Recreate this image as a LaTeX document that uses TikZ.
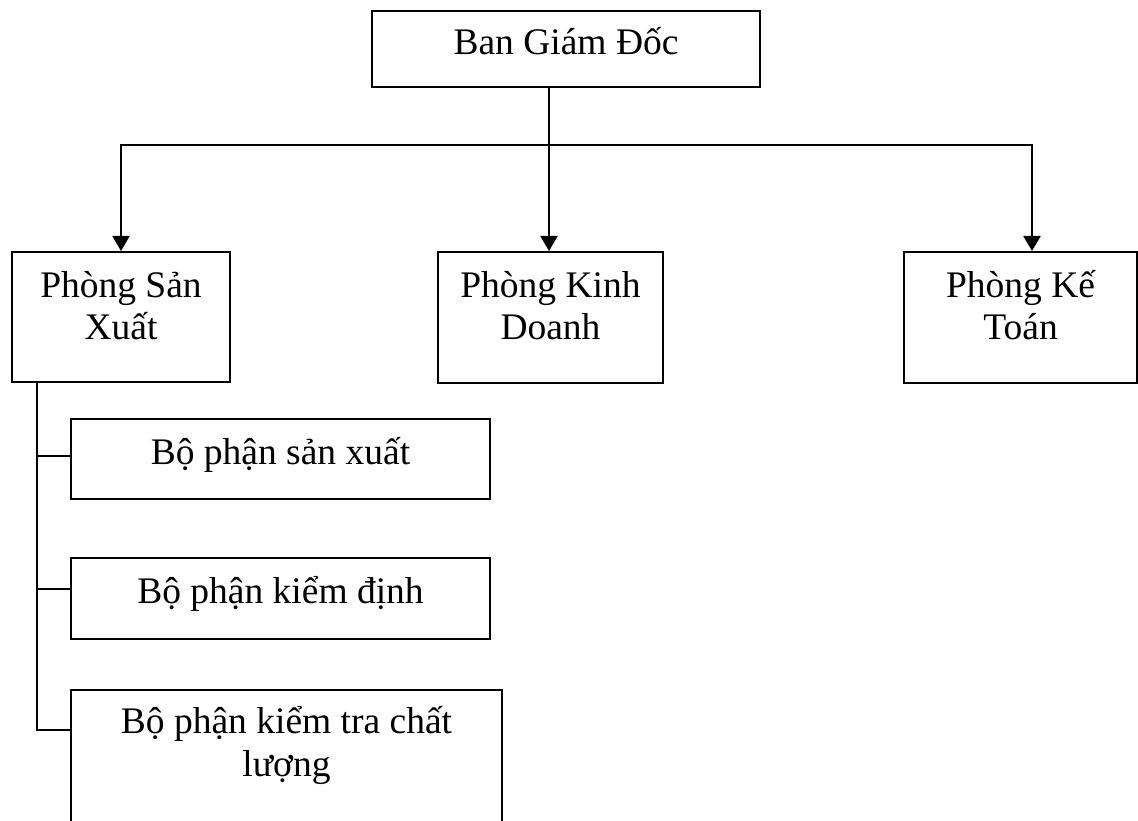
\documentclass[tikz,border=0pt]{standalone}
\usepackage{fontspec}
\setmainfont{Liberation Serif}
\usetikzlibrary{arrows.meta,calc}
\tikzset{
  box/.style={draw, line width=2pt, rectangle, inner sep=0pt, anchor=north west},
  lbl/.style={inner sep=0pt, anchor=base, font=\fontsize{37.5}{43}\selectfont},
  link/.style={line width=2pt},
  arr/.style={link, -{Triangle[width=17pt,length=15pt]}},
}
\newcommand{\twoline}[2]{\begin{tabular}[t]{@{}c@{}}#1\\#2\end{tabular}}
\begin{document}
\begin{tikzpicture}[x=1pt,y=-1pt]
  \clip (0,0) rectangle (1138,821);

  % boxes
  \node[box, minimum width=388pt, minimum height=76pt]  (bgd) at (371,10)  {};
  \node[box, minimum width=218pt, minimum height=130pt] (psx) at (11,251)  {};
  \node[box, minimum width=225pt, minimum height=131pt] (pkd) at (437,251) {};
  \node[box, minimum width=233pt, minimum height=131pt] (pkt) at (903,251) {};
  \node[box, minimum width=419pt, minimum height=80pt]  (bp1) at (70,418)  {};
  \node[box, minimum width=419pt, minimum height=81pt]  (bp2) at (70,557)  {};
  \node[box, minimum width=431pt, minimum height=160pt] (bp3) at (70,689)  {};

  % texts, first baseline a fixed distance below each box top
  \node[lbl] (tbgd) at ([yshift=-45pt]bgd.north) {Ban Giám Đốc};
  \node[lbl] (tpsx) at ([yshift=-46pt]psx.north) {\twoline{Phòng Sản}{Xuất}};
  \node[lbl] (tpkd) at ([yshift=-46pt]pkd.north) {\twoline{Phòng Kinh}{Doanh}};
  \node[lbl] (tpkt) at ([yshift=-46pt]pkt.north) {\twoline{Phòng Kế}{Toán}};
  \node[lbl] (tbp1) at ([yshift=-46pt]bp1.north) {Bộ phận sản xuất};
  \node[lbl] (tbp2) at ([yshift=-46pt]bp2.north) {Bộ phận kiểm định};
  \node[lbl] (tbp3) at ([yshift=-44pt]bp3.north) {\twoline{Bộ phận kiểm tra chất}{lượng}};

  % junction points
  \coordinate (j)  at (549,145);
  \coordinate (hr) at (1032,145);
  \coordinate (v)  at (37,730);
  \coordinate (t1) at (37,456);
  \coordinate (t2) at (37,589);

  % top level connectors
  \draw[link] (bgd.south -| j) -- (j);
  \draw[arr] (j) -| (psx.north);
  \draw[arr] (j) -- (pkd.north -| j);
  \draw[arr] (j) -- (hr) -- (pkt.north -| hr);

  % production sub-units
  \draw[link] (psx.south -| v) -- (v) -- (v -| bp3.west);
  \draw[link] (t1) -- (t1 -| bp1.west);
  \draw[link] (t2) -- (t2 -| bp2.west);
\end{tikzpicture}
\end{document}
